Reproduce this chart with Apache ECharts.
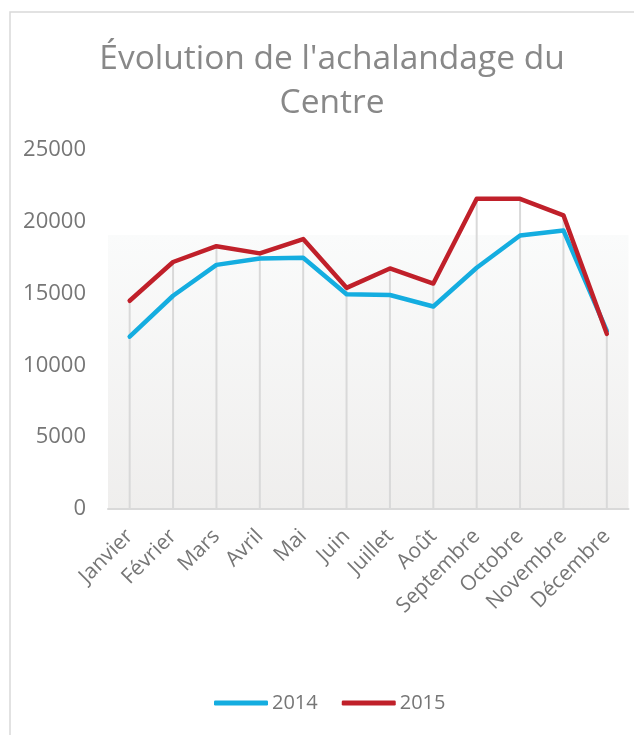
<!DOCTYPE html>
<html>
<head>
<meta charset="utf-8">
<script src="https://cdn.jsdelivr.net/npm/echarts@6/dist/echarts.min.js"></script>
<style>
  html, body { margin: 0; padding: 0; background: #fff; }
  #chart { width: 634px; height: 735px; }
</style>
</head>
<body>
<div id="chart"></div>
<script>
var months = ['Janvier', 'Février', 'Mars', 'Avril', 'Mai', 'Juin', 'Juillet', 'Août', 'Septembre', 'Octobre', 'Novembre', 'Décembre'];
var values2014 = [12000, 14850, 17000, 17450, 17500, 14950, 14900, 14100, 16800, 19050, 19400, 12400];
var values2015 = [14500, 17200, 18300, 17800, 18800, 15400, 16750, 15700, 21600, 21600, 20450, 12200];
var yTicks = [0, 5000, 10000, 15000, 20000, 25000];

// drop lines go from the higher of the two points down to the axis
var dropTops = [];
for (var i = 0; i < months.length; i++) {
    dropTops.push(Math.max(values2014[i], values2015[i]));
}

var textColor = '#767676';
var font = 'Open Sans';

var chart = echarts.init(document.getElementById('chart'));
chart.setOption({
    animation: false,
    textStyle: { fontFamily: font },
    graphic: [{
        type: 'rect',
        shape: { x: 10, y: 12, width: 660, height: 760 },
        style: { fill: null, stroke: '#d9d9d9', lineWidth: 1.5 },
        silent: true,
        z: -10
    }],
    title: {
        text: "Évolution de l'achalandage du\nCentre",
        left: 327,
        textAlign: 'center',
        top: 32,
        textStyle: {
            fontFamily: font,
            fontSize: 33.5,
            fontWeight: 'normal',
            color: '#888888',
            lineHeight: 44
        }
    },
    legend: {
        data: ['2014', '2015'],
        left: 214,
        top: 693,
        padding: 0,
        icon: 'roundRect',
        itemWidth: 54,
        itemHeight: 5,
        itemGap: 24,
        textStyle: { fontFamily: font, fontSize: 20, color: textColor, padding: [0, 0, 0, -1] }
    },
    grid: {
        left: 108,
        right: 5.5,
        top: 150,
        bottom: 226,
        show: true,
        borderWidth: 0,
        backgroundColor: new echarts.graphic.LinearGradient(0, 0, 0, 1, [
            { offset: 0, color: '#ffffff' },
            { offset: 0.236, color: '#ffffff' },
            { offset: 0.238, color: '#fafbfb' },
            { offset: 1, color: '#efeeed' }
        ])
    },
    xAxis: {
        type: 'category',
        data: months,
        boundaryGap: true,
        axisLine: { show: true, lineStyle: { color: '#d9d9d9', width: 2 } },
        axisTick: { show: false },
        splitLine: { show: false },
        axisLabel: {
            interval: 0,
            rotate: 45,
            margin: 24,
            fontFamily: font,
            fontSize: 21,
            color: textColor
        }
    },
    yAxis: {
        type: 'value',
        min: yTicks[0],
        max: yTicks[yTicks.length - 1],
        interval: yTicks[1] - yTicks[0],
        axisLine: { show: false },
        axisTick: { show: false },
        splitLine: { show: false },
        axisLabel: {
            margin: 22,
            fontFamily: font,
            fontSize: 22,
            color: textColor,
            formatter: function (v) { return String(v); }
        }
    },
    series: [{
        name: 'drop',
        type: 'bar',
        data: dropTops,
        barWidth: 2,
        silent: true,
        itemStyle: { color: '#d9d9d9' },
        z: 1
    }, {
        name: '2014',
        type: 'line',
        data: values2014,
        symbol: 'none',
        lineStyle: { color: '#14ade0', width: 4.5, cap: 'round', join: 'round' },
        itemStyle: { color: '#14ade0' },
        z: 3
    }, {
        name: '2015',
        type: 'line',
        data: values2015,
        symbol: 'none',
        lineStyle: { color: '#c0202a', width: 4.5, cap: 'round', join: 'round' },
        itemStyle: { color: '#c0202a' },
        z: 4
    }]
});
</script>
</body>
</html>
